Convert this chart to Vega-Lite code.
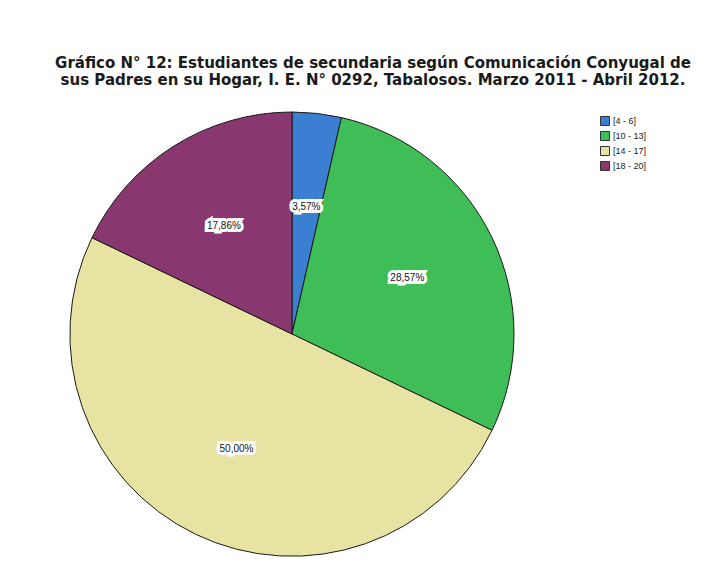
{
  "$schema": "https://vega.github.io/schema/vega-lite/v6.json",
  "autosize": "none",
  "width": 444,
  "height": 444,
  "padding": {"left": 70, "top": 112, "right": 207, "bottom": 12},
  "background": "white",
  "title": {
    "text": ["Gráfico N° 12: Estudiantes de secundaria según Comunicación Conyugal de", "sus Padres en su Hogar,  I. E. N° 0292, Tabalosos. Marzo 2011 - Abril 2012."],
    "font": "DejaVu Sans",
    "fontSize": 15,
    "fontWeight": "bold",
    "lineHeight": 17,
    "color": "#1a1a1a",
    "anchor": "middle",
    "dx": 81,
    "offset": 22
  },
  "data": {
    "values": [
      {"rango": "[4 - 6]", "orden": 1, "n": 1, "pct": "3,57%"},
      {"rango": "[10 - 13]", "orden": 2, "n": 8, "pct": "28,57%"},
      {"rango": "[14 - 17]", "orden": 3, "n": 14, "pct": "50,00%"},
      {"rango": "[18 - 20]", "orden": 4, "n": 5, "pct": "17,86%"}
    ]
  },
  "encoding": {
    "theta": {"field": "n", "type": "quantitative", "stack": true},
    "order": {"field": "orden", "type": "quantitative"}
  },
  "layer": [
    {
      "mark": {"type": "arc", "outerRadius": 222, "stroke": "#1a1a1a", "strokeWidth": 1},
      "encoding": {
        "color": {
          "field": "rango",
          "type": "nominal",
          "sort": ["[4 - 6]", "[10 - 13]", "[14 - 17]", "[18 - 20]"],
          "scale": {
            "domain": ["[4 - 6]", "[10 - 13]", "[14 - 17]", "[18 - 20]"],
            "range": ["#3b7fd2", "#3fbd57", "#e7e3a3", "#88386f"]
          },
          "legend": {
            "title": null,
            "orient": "none",
            "legendX": 530,
            "legendY": 4,
            "symbolType": "square",
            "symbolSize": 81,
            "symbolStrokeColor": "#333333",
            "symbolStrokeWidth": 1,
            "labelFont": "Liberation Sans",
            "labelFontSize": 9,
            "labelColor": "#222222",
            "rowPadding": 1,
            "labelOffset": 3
          }
        }
      }
    },
    {
      "mark": {"type": "text", "radius": 128, "font": "Liberation Sans", "fontSize": 10, "stroke": "white", "strokeWidth": 6, "strokeJoin": "miter"},
      "encoding": {"text": {"field": "pct"}}
    },
    {
      "mark": {"type": "text", "radius": 128, "font": "Liberation Sans", "fontSize": 10, "color": "#111111"},
      "encoding": {"text": {"field": "pct"}}
    }
  ],
  "config": {"view": {"stroke": null}}
}
